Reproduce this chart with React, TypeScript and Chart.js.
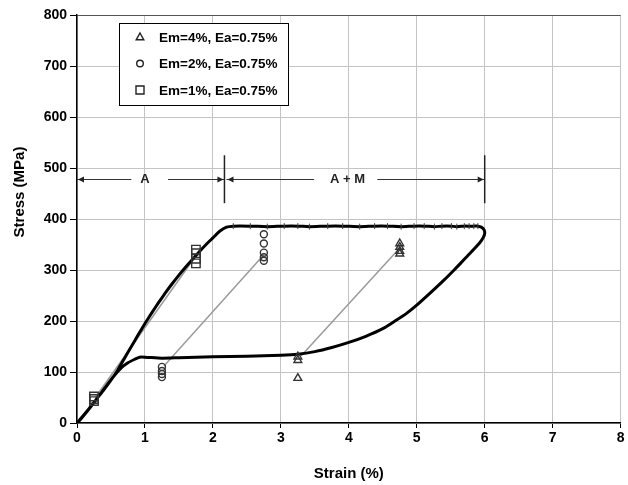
import React, { useEffect, useRef } from "react";
import { Chart, registerables } from "chart.js";
Chart.register(...registerables);

const FONT = "'Liberation Sans', Arial, sans-serif";

// Main stress-strain loop
const loadingStrain = [0, 0.1, 0.2, 0.3, 0.4, 0.5, 0.6, 0.7, 0.8, 0.9, 1.0, 1.1, 1.2, 1.3, 1.4, 1.5, 1.6, 1.7, 1.8, 1.9, 2.0, 2.1, 2.2];
const loadingStress = [0, 16, 32, 49, 66, 84, 104, 127, 150, 173, 195, 216, 236, 255, 273, 290, 306, 321, 336, 350, 363, 376, 384];
const plateauStrain = [2.3, 2.55, 2.8, 3.05, 3.25, 3.42, 3.69, 3.91, 4.16, 4.38, 4.57, 4.77, 4.96, 5.11, 5.26, 5.37, 5.51, 5.59, 5.7, 5.77, 5.84, 5.9];
const plateauStress = [386, 386, 385, 386, 386, 385, 386, 386, 385, 386, 386, 385, 386, 386, 385, 386, 386, 385, 386, 386, 386, 386];
const unloadingStrain = [5.95, 5.99, 6.0, 5.98, 5.93, 5.85, 5.75, 5.65, 5.55, 5.4, 5.2, 5.0, 4.85, 4.68, 4.5, 4.25, 4.0, 3.75, 3.5, 3.25, 3.0, 2.5, 2.0, 1.5, 1.25, 1.0, 0.92, 0.85, 0.75, 0.65, 0.55, 0.45, 0.35, 0.25, 0.15, 0.05, 0];
const unloadingStress = [384, 379, 372, 364, 354, 342, 328, 314, 300, 280, 255, 231, 215, 200, 185, 170, 158, 148, 140, 135, 133, 131, 130, 128, 127, 129, 129, 125, 118, 108, 93, 76, 58, 40, 23, 7, 0];

// Partial unloading lines (grey)
const greyLine1Strain = [0.27, 1.75];
const greyLine1Stress = [50, 328];
const greyLine2Strain = [1.28, 2.75];
const greyLine2Stress = [112, 330];
const greyLine3Strain = [3.3, 4.75];
const greyLine3Stress = [132, 343];

// Markers
const triStrain = [3.25, 3.25, 3.25, 4.75, 4.75, 4.75, 4.75];
const triStress = [130, 123, 88, 352, 345, 337, 332];
const circStrain = [1.25, 1.25, 1.25, 1.25, 2.75, 2.75, 2.75, 2.75, 2.75];
const circStress = [110, 102, 96, 90, 370, 352, 334, 325, 318];
const sqStrain = [0.25, 0.25, 0.25, 1.75, 1.75, 1.75, 1.75];
const sqStress = [52, 47, 43, 340, 333, 322, 313];

const legendLabels = ["Em=4%, Ea=0.75%", "Em=2%, Ea=0.75%", "Em=1%, Ea=0.75%"];

// Region annotations
const regionStress = 478;
const regionA = { from: 0, to: 2.17, label: "A", labelAt: 1.0, gapFrom: 0.8, gapTo: 1.34 };
const regionAM = { from: 2.2, to: 6.0, label: "A + M", labelAt: 3.98, gapFrom: 3.49, gapTo: 4.42 };
const boundaryStrain = [2.17, 6.0];
const boundaryStressLow = 431;
const boundaryStressHigh = 525;

const xTicks = [0, 1, 2, 3, 4, 5, 6, 7, 8];
const yTicks = [0, 100, 200, 300, 400, 500, 600, 700, 800];

const zip = (xs: number[], ys: number[]) => xs.map((x, i) => ({ x, y: ys[i] }));

function drawMarker(ctx: CanvasRenderingContext2D, kind: string, x: number, y: number) {
  ctx.beginPath();
  if (kind === "tri") {
    ctx.moveTo(x, y - 4);
    ctx.lineTo(x + 3.8, y + 2.8);
    ctx.lineTo(x - 3.8, y + 2.8);
    ctx.closePath();
  } else if (kind === "circ") {
    ctx.arc(x, y, 3.3, 0, Math.PI * 2);
  } else {
    ctx.rect(x - 4, y - 4, 8, 8);
  }
  ctx.stroke();
}

const overlay = {
  id: "overlay",
  afterDraw(chart: any) {
    const { ctx, scales } = chart;
    const xs = scales.x;
    const ys = scales.y;
    ctx.save();
    // Axis titles
    ctx.fillStyle = "#000";
    ctx.font = `bold 15px ${FONT}`;
    ctx.textAlign = "center";
    ctx.textBaseline = "middle";
    ctx.fillText("Strain (%)", (chart.chartArea.left + chart.chartArea.right) / 2, 474);
    ctx.save();
    ctx.translate(20, 192);
    ctx.rotate(-Math.PI / 2);
    ctx.fillText("Stress (MPa)", 0, 0);
    ctx.restore();

    // Region arrows
    const yy = Math.round(ys.getPixelForValue(regionStress)) + 0.5;
    const arrowHead = (px: number, dir: number) => {
      ctx.beginPath();
      ctx.moveTo(px, yy);
      ctx.lineTo(px - dir * 6, yy - 3);
      ctx.lineTo(px - dir * 6, yy + 3);
      ctx.closePath();
      ctx.fill();
    };
    ctx.strokeStyle = "#333";
    ctx.fillStyle = "#222";
    ctx.lineWidth = 1;
    [regionA, regionAM].forEach((r) => {
      const p0 = xs.getPixelForValue(r.from);
      const p1 = xs.getPixelForValue(r.to);
      const g0 = xs.getPixelForValue(r.gapFrom);
      const g1 = xs.getPixelForValue(r.gapTo);
      ctx.beginPath();
      ctx.moveTo(p0, yy);
      ctx.lineTo(g0, yy);
      ctx.moveTo(g1, yy);
      ctx.lineTo(p1, yy);
      ctx.stroke();
      arrowHead(p0 + 1, -1);
      arrowHead(p1 - 1, 1);
      ctx.font = `bold 13px ${FONT}`;
      ctx.textAlign = "center";
      ctx.textBaseline = "middle";
      ctx.fillText(r.label, xs.getPixelForValue(r.labelAt), yy);
    });
    ctx.strokeStyle = "#222";
    ctx.lineWidth = 1.5;
    boundaryStrain.forEach((s) => {
      const px = xs.getPixelForValue(s);
      ctx.beginPath();
      ctx.moveTo(px, ys.getPixelForValue(boundaryStressLow));
      ctx.lineTo(px, ys.getPixelForValue(boundaryStressHigh));
      ctx.stroke();
    });

    // Legend
    const lx = 119.5, ly = 23.5, lw = 169, lh = 82;
    ctx.fillStyle = "#fff";
    ctx.fillRect(lx, ly, lw, lh);
    ctx.strokeStyle = "#000";
    ctx.lineWidth = 1;
    ctx.strokeRect(lx, ly, lw, lh);
    const kinds = ["tri", "circ", "sq"];
    ctx.font = `bold 13.5px ${FONT}`;
    ctx.textAlign = "left";
    ctx.textBaseline = "middle";
    legendLabels.forEach((lab, i) => {
      const ry = 37 + i * 26.5;
      ctx.strokeStyle = "#222";
      ctx.lineWidth = 1.4;
      drawMarker(ctx, kinds[i], 140, ry);
      ctx.fillStyle = "#000";
      ctx.fillText(lab, 159, ry + 1);
    });
    ctx.restore();
  },
};

export default function App() {
  const ref = useRef<HTMLCanvasElement>(null);
  useEffect(() => {
    if (!ref.current) return;
    const greyDs = (xs: number[], ys: number[]) => ({
      data: zip(xs, ys),
      showLine: true,
      borderColor: "#9a9a9a",
      borderWidth: 1.5,
      pointRadius: 0,
      order: 3,
    });
    const markerDs = (xs: number[], ys: number[], style: string, r: number) => ({
      data: zip(xs, ys),
      showLine: false,
      pointStyle: style,
      pointRadius: r,
      pointBorderColor: "#333",
      pointBackgroundColor: "rgba(255,255,255,0)",
      pointBorderWidth: 1.4,
      order: 0,
    });
    const chart = new Chart(ref.current, {
      type: "scatter",
      data: {
        datasets: [
          greyDs(greyLine1Strain, greyLine1Stress),
          greyDs(greyLine2Strain, greyLine2Stress),
          greyDs(greyLine3Strain, greyLine3Stress),
          {
            data: zip(
              [...loadingStrain, ...plateauStrain, ...unloadingStrain],
              [...loadingStress, ...plateauStress, ...unloadingStress]
            ),
            showLine: true,
            borderColor: "#000",
            borderWidth: 3,
            pointRadius: 0,
            tension: 0.2,
            order: 2,
          },
          {
            data: zip(plateauStrain, plateauStress),
            showLine: false,
            pointStyle: "line",
            rotation: 90,
            pointRadius: 3,
            pointBorderColor: "#444",
            pointBorderWidth: 1,
            order: 1,
          },
          markerDs(triStrain, triStress, "triangle", 4.5),
          markerDs(circStrain, circStress, "circle", 3.5),
          markerDs(sqStrain, sqStress, "rect", 6),
        ] as any,
      },
      options: {
        animation: false,
        responsive: false,
        layout: { padding: { top: 15, right: 6, left: 0, bottom: 0 } },
        plugins: { legend: { display: false }, tooltip: { enabled: false } },
        scales: {
          x: {
            type: "linear",
            min: 0,
            max: 8,
            afterBuildTicks: (s: any) => {
              s.ticks = xTicks.map((v) => ({ value: v }));
            },
            afterFit: (s: any) => {
              s.height = 62;
            },
            ticks: { color: "#000", font: { family: FONT, size: 14, weight: "bold" }, padding: 2 },
            grid: { color: "#c4c4c4", tickColor: "#000", tickLength: 5, lineWidth: 1 },
            border: { color: "#000", width: 1.5 },
          },
          y: {
            type: "linear",
            min: 0,
            max: 800,
            afterBuildTicks: (s: any) => {
              s.ticks = yTicks.map((v) => ({ value: v }));
            },
            afterFit: (s: any) => {
              s.width = 77;
            },
            ticks: { color: "#000", font: { family: FONT, size: 14, weight: "bold" }, padding: 3 },
            grid: {
              color: (c: any) => (c.tick && c.tick.value === 800 ? "#555" : "#c4c4c4"),
              tickColor: "#000",
              tickLength: 7,
              lineWidth: 1,
            },
            border: { color: "#000", width: 1.5 },
          },
        },
      } as any,
      plugins: [overlay],
    });
    return () => chart.destroy();
  }, []);
  return (
    <div style={{ position: "fixed", left: 0, top: 0, width: 628, height: 485, background: "#fff" }}>
      <canvas ref={ref} width={628} height={485} style={{ display: "block" }} />
    </div>
  );
}
